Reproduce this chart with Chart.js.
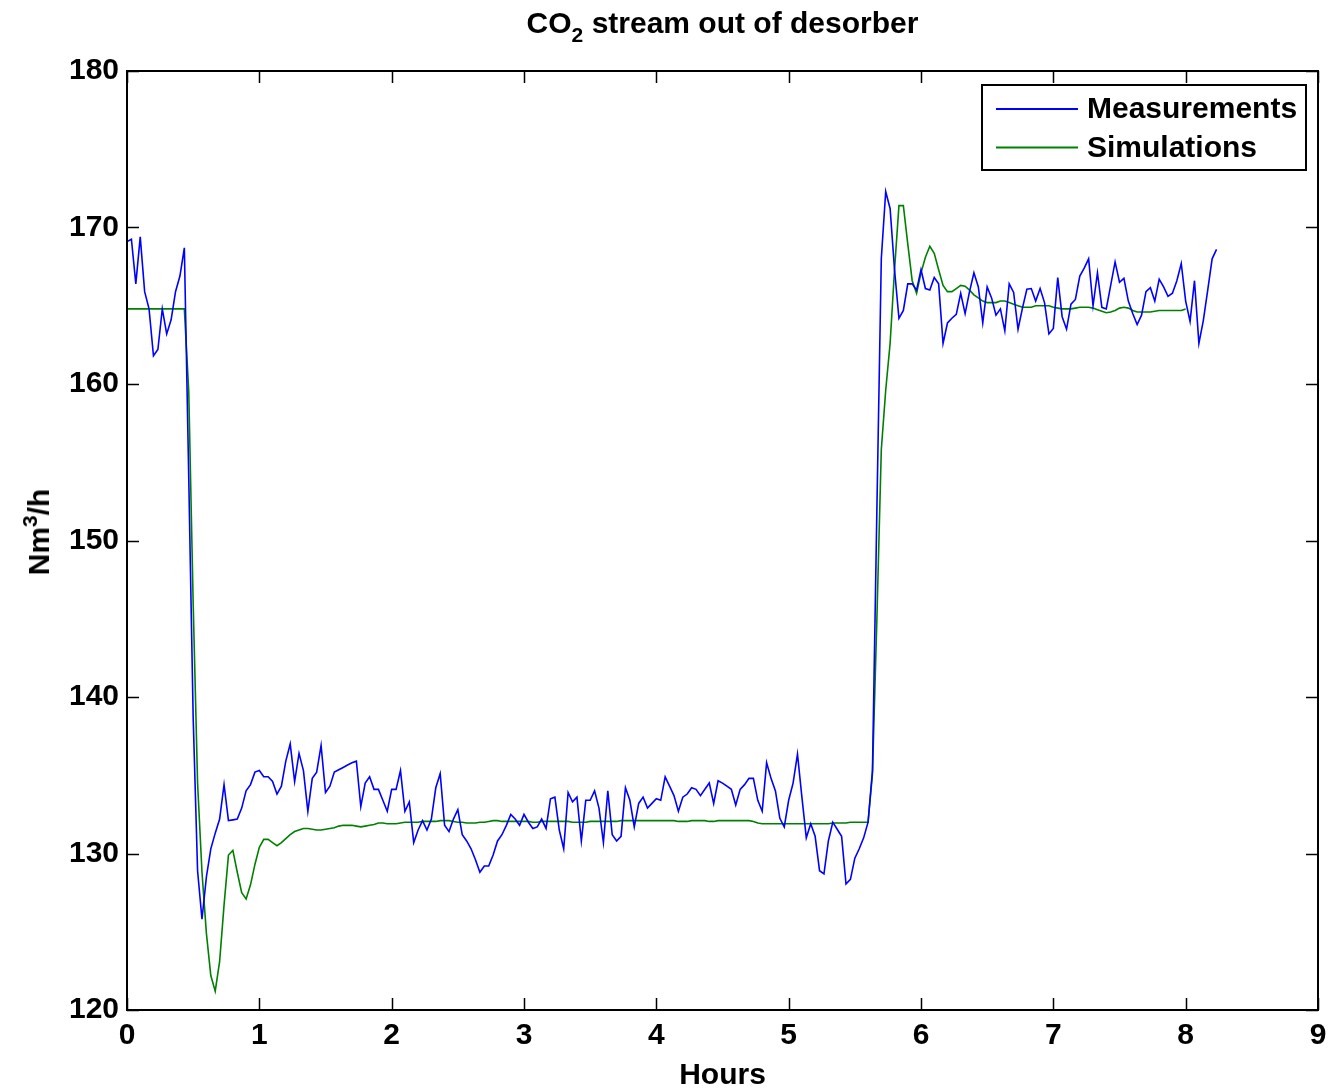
<!DOCTYPE html>
<html>
<head>
<meta charset="utf-8">
<title>CO2 stream out of desorber</title>
<script src="https://cdn.jsdelivr.net/npm/chart.js@4.4.1/dist/chart.umd.min.js"></script>
<style>
  body { margin: 0; background: #fff; }
  #wrap { position: relative; width: 1330px; height: 1088px; font-family: "Liberation Sans", Arial, Helvetica, sans-serif; font-weight: bold; }
  #plotTitle { position: absolute; top: 8px; left: 127px; width: 1191px; text-align: center; font-size: 30px; line-height: 30px; color: #000; }
  #plotTitle sub { font-size: 21px; vertical-align: -9px; line-height: 0; }
  #yLabel { position: absolute; left: 39px; top: 532px; transform: translate(-50%, -50%) rotate(-90deg); white-space: nowrap; font-size: 30px; line-height: 30px; color: #000; }
  #yLabel sup { font-size: 21px; vertical-align: 12px; line-height: 0; }
</style>
</head>
<body>
<div id="wrap">
  <canvas id="co2Chart" width="1330" height="1088"></canvas>
  <div id="plotTitle">CO<sub>2</sub> stream out of desorber</div>
  <div id="yLabel">Nm<sup>3</sup>/h</div>
</div>
<script>
// one sample every 2 minutes, starting at 0 h
const sampleHours = 2 / 60;

const xTickValues = [0, 1, 2, 3, 4, 5, 6, 7, 8, 9];
const yTickValues = [120, 130, 140, 150, 160, 170, 180];

const seriesNames = ['Measurements', 'Simulations'];
const seriesColors = ['#0000ff', '#008000'];

// Nm3/h
const measValues = [
  169.1, 169.25, 166.4, 169.4, 165.9, 164.8, 161.8, 162.2, 164.8, 163.2,
  164.1, 165.9, 166.9, 168.7, 154.0, 138.7, 128.9, 125.8, 128.5, 130.3,
  131.3, 132.2, 134.4, 132.1, 132.15, 132.2, 132.9, 134.0, 134.4, 135.2,
  135.3, 134.9, 134.9, 134.6, 133.8, 134.3, 135.9, 137.0, 134.6, 136.4,
  135.3, 132.7, 134.8, 135.2, 136.9, 133.9, 134.3, 135.2, 135.35, 135.5,
  135.65, 135.8, 135.9, 133.0, 134.5, 134.9, 134.1, 134.1, 133.4, 132.7,
  134.1, 134.1, 135.3, 132.7, 133.3, 130.7, 131.5, 132.1, 131.5, 132.2,
  134.2, 135.1, 131.8, 131.4, 132.2, 132.8, 131.2, 130.8, 130.3, 129.6,
  128.8, 129.2, 129.2, 129.9, 130.8, 131.2, 131.8, 132.5, 132.2, 131.8,
  132.5, 132.0, 131.6, 131.7, 132.2, 131.6, 133.5, 133.6, 131.5, 130.3,
  133.9, 133.3, 133.6, 130.8, 133.4, 133.4, 134.0, 132.9, 130.7, 134.0,
  131.2, 130.8, 131.1, 134.2, 133.4, 131.7, 133.2, 133.6, 132.9, 133.2,
  133.5, 133.4, 134.9, 134.3, 133.7, 132.7, 133.6, 133.8, 134.2, 134.1,
  133.7, 134.1, 134.5, 133.2, 134.65, 134.5, 134.3, 134.1, 133.1, 134.1,
  134.4, 134.8, 134.8, 133.4, 132.7, 135.8, 134.8, 134.0, 132.25, 131.7,
  133.4, 134.5, 136.35, 133.6, 131.0, 131.9, 131.1, 128.9, 128.7, 130.8,
  132.0, 131.55, 131.1, 128.05, 128.35, 129.7, 130.3, 131.0, 132.0, 135.3,
  152.0, 168.0, 172.3, 171.2, 167.3, 164.2, 164.7, 166.4, 166.4, 166.0,
  167.3, 166.1, 166.0, 166.8, 166.4, 162.6, 163.9, 164.2, 164.45, 165.8,
  164.5, 165.9, 167.1, 166.2, 163.9, 166.2, 165.5, 164.4, 164.8, 163.4,
  166.4, 165.85, 163.5, 164.85, 166.05, 166.1, 165.3, 166.1, 165.2, 163.2,
  163.55, 166.8, 164.3, 163.5, 165.1, 165.4, 166.9, 167.4, 168.0, 165.0,
  167.1, 164.9, 164.8, 166.3, 167.8, 166.5, 166.75, 165.3, 164.5, 163.8,
  164.4, 165.9, 166.15, 165.3, 166.7, 166.2, 165.6, 165.8, 166.6, 167.7,
  165.3, 164.0, 166.6, 162.6, 164.05, 166.0, 168.0, 168.6
];

const simValues = [
  164.8, 164.8, 164.8, 164.8, 164.8, 164.8, 164.8, 164.8, 164.8, 164.8,
  164.8, 164.8, 164.8, 164.8, 159.5, 146.0, 134.5, 128.8, 124.9, 122.2,
  121.2, 123.1, 126.7, 129.9, 130.2, 128.8, 127.5, 127.1, 128.0, 129.3,
  130.4, 130.9, 130.9, 130.7, 130.5, 130.7, 130.95, 131.2, 131.4, 131.5,
  131.6, 131.6, 131.55, 131.5, 131.5, 131.55, 131.6, 131.65, 131.75, 131.8,
  131.8, 131.8, 131.75, 131.7, 131.75, 131.8, 131.85, 131.95, 131.95, 131.9,
  131.9, 131.9, 131.95, 132.0, 132.0, 132.0, 132.0, 132.05, 132.05, 132.05,
  132.05, 132.1, 132.1, 132.1, 132.05, 132.0, 132.0, 131.95, 131.95, 131.95,
  132.0, 132.0, 132.05, 132.1, 132.1, 132.05, 132.05, 132.05, 132.05, 132.05,
  132.05, 132.05, 132.0, 132.0, 132.05, 132.05, 132.05, 132.05, 132.05, 132.05,
  132.05, 132.0, 132.0, 132.0, 132.0, 132.05, 132.05, 132.05, 132.05, 132.05,
  132.05, 132.05, 132.1, 132.1, 132.1, 132.1, 132.1, 132.1, 132.1, 132.1,
  132.1, 132.1, 132.1, 132.1, 132.1, 132.05, 132.05, 132.05, 132.1, 132.1,
  132.1, 132.1, 132.05, 132.05, 132.1, 132.1, 132.1, 132.1, 132.1, 132.1,
  132.1, 132.1, 132.05, 131.95, 131.9, 131.9, 131.9, 131.9, 131.9, 131.9,
  131.9, 131.9, 131.9, 131.9, 131.9, 131.9, 131.9, 131.9, 131.9, 131.9,
  131.95, 131.95, 131.95, 131.95, 132.0, 132.0, 132.0, 132.0, 132.0, 135.1,
  145.0, 155.8, 159.6, 162.6, 167.3, 171.4, 171.4, 168.95, 166.6, 165.8,
  167.1, 168.1, 168.8, 168.35, 167.3, 166.3, 165.9, 165.9, 166.1, 166.3,
  166.25, 166.0, 165.7, 165.5, 165.3, 165.2, 165.2, 165.2, 165.3, 165.3,
  165.2, 165.1, 165.0, 164.9, 164.9, 164.9, 165.0, 165.0, 165.0, 165.0,
  164.9, 164.85, 164.8, 164.8, 164.8, 164.85, 164.9, 164.9, 164.9, 164.85,
  164.75, 164.65, 164.55, 164.6, 164.7, 164.85, 164.9, 164.85, 164.7, 164.6,
  164.6, 164.6, 164.6, 164.65, 164.7, 164.7, 164.7, 164.7, 164.7, 164.7,
  164.8
];

const fontFamily = '"Liberation Sans", Arial, Helvetica, sans-serif';

function toPoints(values) {
  return values.map((v, i) => ({ x: i * sampleHours, y: v }));
}

// MATLAB look: closed box, ticks pointing inwards, boxed legend in the corner
const matlabFrame = {
  id: 'matlabFrame',
  afterDatasetsDraw(chart) {
    const { ctx, chartArea: a, scales: { x, y } } = chart;
    ctx.save();
    ctx.strokeStyle = '#000';
    ctx.lineWidth = 1.5;
    ctx.beginPath();
    x.ticks.forEach(t => {
      const px = Math.round(x.getPixelForValue(t.value)) + 0.5;
      ctx.moveTo(px, a.bottom); ctx.lineTo(px, a.bottom - 12);
      ctx.moveTo(px, a.top); ctx.lineTo(px, a.top + 12);
    });
    y.ticks.forEach(t => {
      const py = Math.round(y.getPixelForValue(t.value)) + 0.5;
      ctx.moveTo(a.left, py); ctx.lineTo(a.left + 12, py);
      ctx.moveTo(a.right, py); ctx.lineTo(a.right - 12, py);
    });
    ctx.stroke();

    ctx.lineWidth = 2;
    ctx.strokeRect(a.left, a.top, a.right - a.left, a.bottom - a.top);

    // legend
    const boxW = 324, boxH = 85;
    const bx = a.right - 12 - boxW, by = a.top + 14;
    ctx.fillStyle = '#fff';
    ctx.fillRect(bx, by, boxW, boxH);
    ctx.strokeRect(bx, by, boxW, boxH);
    ctx.font = 'bold 30px ' + fontFamily;
    ctx.textBaseline = 'middle';
    ctx.textAlign = 'left';
    chart.data.datasets.forEach((ds, i) => {
      const ly = by + 24 + i * 38.5;
      ctx.strokeStyle = ds.borderColor;
      ctx.lineWidth = 2;
      ctx.beginPath();
      ctx.moveTo(bx + 14, ly); ctx.lineTo(bx + 96, ly);
      ctx.stroke();
      ctx.fillStyle = '#000';
      ctx.fillText(ds.label, bx + 105, ly + 1);
    });
    ctx.restore();
  }
};

new Chart(document.getElementById('co2Chart'), {
  type: 'line',
  data: {
    datasets: [
      { label: seriesNames[0], data: toPoints(measValues), borderColor: seriesColors[0], borderWidth: 1.6, pointRadius: 0, tension: 0 },
      { label: seriesNames[1], data: toPoints(simValues), borderColor: seriesColors[1], borderWidth: 1.6, pointRadius: 0, tension: 0 }
    ]
  },
  options: {
    responsive: false,
    animation: false,
    layout: { padding: { left: 0, top: 71, right: 12, bottom: 0 } },
    plugins: {
      legend: { display: false },
      title: { display: false },
      tooltip: { enabled: false }
    },
    scales: {
      x: {
        type: 'linear',
        min: 0,
        max: 9,
        afterBuildTicks: s => { s.ticks = xTickValues.map(v => ({ value: v })); },
        afterFit: s => { s.height = 78; s.paddingLeft = 0; s.paddingRight = 0; },
        grid: { display: false, drawTicks: false },
        border: { display: false },
        ticks: { color: '#000', padding: 8, maxRotation: 0, font: { family: fontFamily, size: 30, weight: 'bold' } },
        title: { display: true, text: 'Hours', color: '#000', padding: { top: 0, bottom: -6 }, font: { family: fontFamily, size: 30, weight: 'bold' } }
      },
      y: {
        min: 120,
        max: 180,
        afterBuildTicks: s => { s.ticks = yTickValues.map(v => ({ value: v })); },
        afterFit: s => { s.width = 127; },
        grid: { display: false, drawTicks: false },
        border: { display: false },
        ticks: { color: '#000', padding: 8, font: { family: fontFamily, size: 30, weight: 'bold' } }
      }
    }
  },
  plugins: [matlabFrame]
});
</script>
</body>
</html>
